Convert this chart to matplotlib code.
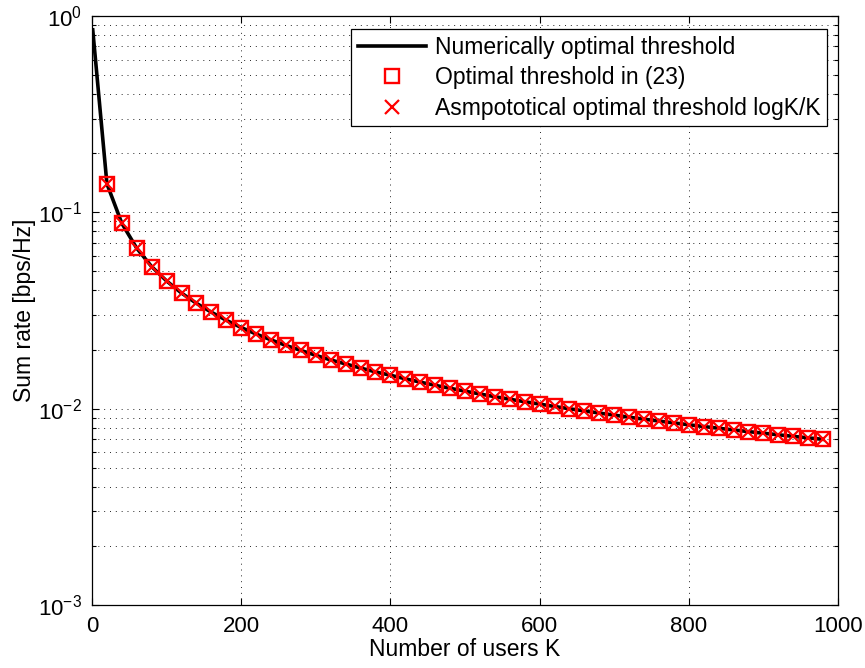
import matplotlib
matplotlib.use("Agg")
import matplotlib.pyplot as plt
from matplotlib.ticker import LogLocator, FixedLocator, NullFormatter

plt.rcParams['font.family'] = ['Liberation Sans', 'DejaVu Sans']
plt.rcParams['mathtext.fontset'] = 'custom'
plt.rcParams['mathtext.rm'] = 'Liberation Sans'
plt.rcParams['mathtext.it'] = 'Liberation Sans:italic'

# Data
K_markers = [20, 40, 60, 80, 100, 120, 140, 160, 180, 200, 220, 240, 260, 280, 300,
             320, 340, 360, 380, 400, 420, 440, 460, 480, 500, 520, 540, 560, 580, 600,
             620, 640, 660, 680, 700, 720, 740, 760, 780, 800, 820, 840, 860, 880, 900,
             920, 940, 960, 980]
rate_eq23 = [0.1398, 0.0879, 0.0656, 0.0529, 0.0447, 0.0388, 0.0344, 0.0310, 0.0282, 0.0259,
             0.0240, 0.0224, 0.0210, 0.0198, 0.0187, 0.0177, 0.0169, 0.0161, 0.0154, 0.0148,
             0.0142, 0.01365, 0.01315, 0.0127, 0.01228, 0.01188, 0.01151, 0.01117, 0.01085, 0.01055,
             0.01026, 0.00999, 0.00974, 0.00950, 0.00927, 0.00905, 0.00884, 0.00865, 0.00846, 0.00828,
             0.00811, 0.00795, 0.00779, 0.00764, 0.00750, 0.00736, 0.00723, 0.00710, 0.00698]
rate_asym = [0.1398, 0.0879, 0.0656, 0.0529, 0.0447, 0.0388, 0.0344, 0.0310, 0.0282, 0.0259,
             0.0240, 0.0224, 0.0210, 0.0198, 0.0187, 0.0177, 0.0169, 0.0161, 0.0154, 0.0148,
             0.0142, 0.01365, 0.01315, 0.0127, 0.01228, 0.01188, 0.01151, 0.01117, 0.01085, 0.01055,
             0.01026, 0.00999, 0.00974, 0.00950, 0.00927, 0.00905, 0.00884, 0.00865, 0.00846, 0.00828,
             0.00811, 0.00795, 0.00779, 0.00764, 0.00750, 0.00736, 0.00723, 0.00710, 0.00698]
K_line = [1] + K_markers
rate_numeric = [0.85] + rate_eq23

fig = plt.figure(figsize=(8.65, 6.68), dpi=100)
ax = fig.add_axes([92/865, 1 - 605/668, (838 - 92)/865, (605 - 16)/668])

ax.plot(K_line, rate_numeric, color='black', lw=2.6, label='Numerically optimal threshold', zorder=3)
ax.plot(K_markers, rate_eq23, ls='none', marker='s', ms=10.5, mfc='none', mec='red', mew=1.7,
        label='Optimal threshold in (23)', zorder=4)
ax.plot(K_markers, rate_asym, ls='none', marker='x', ms=9.5, mec='red', mew=1.6,
        label='Asmpototical optimal threshold logK/K', zorder=5)

ax.set_yscale('log')
ax.set_xlim(0, 1000)
ax.set_ylim(1e-3, 1)
ax.xaxis.set_major_locator(FixedLocator([0, 200, 400, 600, 800, 1000]))
ax.yaxis.set_major_locator(LogLocator(base=10, numticks=10))
ax.yaxis.set_minor_locator(LogLocator(base=10, subs=range(2, 10), numticks=20))
ax.yaxis.set_minor_formatter(NullFormatter())

grid_style = dict(color='black', linestyle=(0, (1, 5)), linewidth=0.7, alpha=0.85)
ax.grid(True, which='major', axis='both', **grid_style)
ax.grid(True, which='minor', axis='y', **grid_style)

ax.tick_params(which='both', direction='in', top=True, right=True, labelsize=16)
ax.tick_params(axis='x', which='major', pad=8)
ax.tick_params(axis='y', which='major', pad=7)
ax.tick_params(which='major', length=5, width=0.8)
ax.tick_params(which='minor', length=3, width=0.8)
for s in ax.spines.values():
    s.set_linewidth(0.9)

ax.set_xlabel('Number of users K', fontsize=16.5, labelpad=1)
ax.set_ylabel('Sum rate [bps/Hz]', fontsize=16.5, labelpad=2)

leg = ax.legend(loc='upper right', bbox_to_anchor=((827 - 92)/746, (605 - 29)/589),
                borderaxespad=0, fontsize=16.5, fancybox=False, framealpha=1,
                edgecolor='black', handlelength=3.0, handletextpad=0.35,
                labelspacing=0.32, borderpad=0.3)
leg.get_frame().set_linewidth(0.9)

fig.savefig('out.png', dpi=100)
